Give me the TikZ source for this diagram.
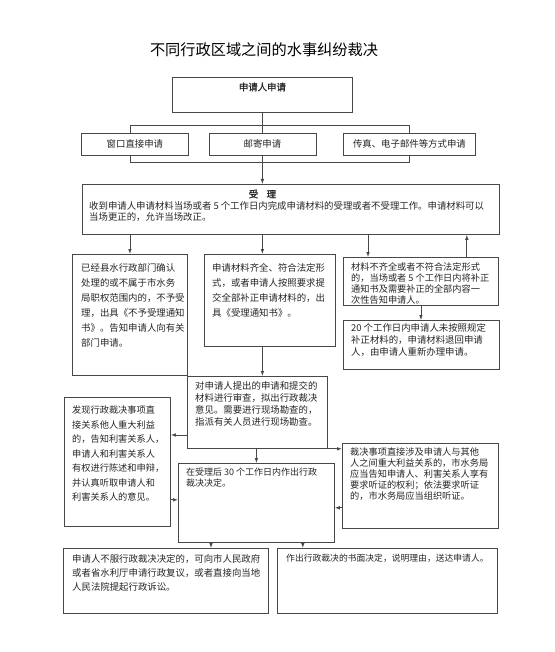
\documentclass[tikz,border=0pt]{standalone}
\usepackage{fontspec}
\setmainfont{Noto Sans CJK SC}
\newfontfamily\headfont{Noto Sans CJK SC}[FakeBold=1.2]
\usetikzlibrary{arrows.meta, positioning, calc}
\definecolor{lineclr}{RGB}{72,72,72}
\definecolor{txtclr}{RGB}{38,38,38}
\tikzset{
  flowbox/.style={draw=lineclr, line width=0.8pt, anchor=north west, inner sep=0pt, text=txtclr, font=\fontsize{9.4}{11}\selectfont},
  boxtext/.style={anchor=north west, inner sep=0pt, align=left, text=txtclr, font=\fontsize{9.4}{#1}\selectfont},
  boxtext/.default=11,
  headtext/.style={inner sep=0pt, text=txtclr, font=\fontsize{9.4}{11}\headfont},
  titletext/.style={inner sep=0pt, text=black, font=\fontsize{15.2}{18}\selectfont},
  link/.style={draw=lineclr, line width=0.8pt},
  arrow/.style={-{Latex[length=5pt, width=3.6pt]}, draw=lineclr, line width=0.8pt},
}
\begin{document}
\begin{tikzpicture}[x=1pt, y=-1pt]
  \useasboundingbox[fill=white] (0,0) rectangle (554,652);

  % --- Title ---
  \node[titletext] (title) at (264,50) {不同行政区域之间的水事纠纷裁决};

  % --- Application ---
  \node[flowbox, minimum width=180pt, minimum height=35pt] (apply) at (172,77) {};
  \node[headtext] (apply-t) at ($(apply.north)+(0,10)$) {申请人申请};

  \node[flowbox, minimum width=107pt, minimum height=22pt] (win) at (81,133) {窗口直接申请};
  \node[flowbox, minimum width=107pt, minimum height=22pt] (mail) at (208.5,133) {邮寄申请};
  \node[flowbox, minimum width=132pt, minimum height=22pt] (fax) at (343,133) {传真、电子邮件等方式申请};

  \coordinate (tl) at (130,125);
  \coordinate (tr) at (409,125);
  \coordinate (bl) at (130,162);
  \coordinate (br) at (409,162);

  % --- Acceptance ---
  \node[flowbox, minimum width=417pt, minimum height=50pt] (accept) at (82,184) {};
  \node[headtext] (accept-h) at ($(accept.north -| apply.south)+(0,10)$) {受\hspace{0.9em}理};
  \node[boxtext=11] (accept-t) at ($(accept.north west)+(7,17)$)
    {收到申请人申请材料当场或者 5 个工作日内完成申请材料的受理或者不受理工作。申请材料可以\\当场更正的，允许当场改正。};

  % --- Second row ---
  \node[flowbox, minimum width=115pt, minimum height=121pt] (reject) at (72,254) {};
  \node[boxtext=15] (reject-t) at ($(reject.north west)+(9,9)$)
    {已经县水行政部门确认\\处理的或不属于市水务\\局职权范围内的，不予受\\理，出具《不予受理通知\\书》。告知申请人向有关\\部门申请。};

  \node[flowbox, minimum width=131pt, minimum height=92pt] (ok) at (204,254) {};
  \node[boxtext=15] (ok-t) at ($(ok.north west)+(8,9)$)
    {申请材料齐全、符合法定形\\式，或者申请人按照要求提\\交全部补正申请材料的，出\\具《受理通知书》。};

  \node[flowbox, minimum width=155pt, minimum height=48pt] (lack) at (343,257) {};
  \node[boxtext=11, font=\fontsize{9.2}{11}\selectfont] (lack-t) at ($(lack.north west)+(8,5)$)
    {材料不齐全或者不符合法定形式\\的，当场或者 5 个工作日内将补正\\通知书及需要补正的全部内容一\\次性告知申请人。};

  \node[flowbox, minimum width=156pt, minimum height=49pt] (retn) at (343,320) {};
  \node[boxtext=12] (retn-t) at ($(retn.north west)+(8,3)$)
    {20 个工作日内申请人未按照规定\\补正材料的，申请材料退回申请\\人，由申请人重新办理申请。};

  % --- Review ---
  \node[flowbox, minimum width=140pt, minimum height=72pt] (review) at (187,376) {};
  \node[boxtext=12] (review-t) at ($(review.north west)+(8,5)$)
    {对申请人提出的申请和提交的\\材料进行审查，拟出行政裁决\\意见。需要进行现场勘查的，\\指派有关人员进行现场勘查。};

  \node[flowbox, minimum width=106pt, minimum height=129pt] (lleft) at (64,397) {};
  \node[boxtext=14.5, font=\fontsize{9.2}{14.5}\selectfont] (lleft-t) at ($(lleft.north west)+(8,9)$)
    {发现行政裁决事项直\\接关系他人重大利益\\的，告知利害关系人，\\申请人和利害关系人\\有权进行陈述和申辩，\\并认真听取申请人和\\利害关系人的意见。};

  \node[flowbox, minimum width=156pt, minimum height=85pt] (rbox) at (342,443) {};
  \node[boxtext=11, font=\fontsize{9.2}{11}\selectfont] (rbox-t) at ($(rbox.north west)+(8,5)$)
    {裁决事项直接涉及申请人与其他\\人之间重大利益关系的，市水务局\\应当告知申请人、利害关系人享有\\要求听证的权利；依法要求听证\\的，市水务局应当组织听证。};

  \node[flowbox, minimum width=156pt, minimum height=79pt] (decide) at (178,463) {};
  \node[boxtext=11, font=\fontsize{9}{11}\selectfont] (decide-t) at ($(decide.north west)+(8,5)$)
    {在受理后 30 个工作日内作出行政\\裁决决定。};

  % --- Result ---
  \node[flowbox, minimum width=205pt, minimum height=65pt] (appeal) at (63,548) {};
  \node[boxtext=14] (appeal-t) at ($(appeal.north west)+(9,6)$)
    {申请人不服行政裁决决定的，可向市人民政府\\或者省水利厅申请行政复议，或者直接向当地\\人民法院提起行政诉讼。};

  \node[flowbox, minimum width=220pt, minimum height=65pt] (write) at (277,548) {};
  \node[boxtext=14, font=\fontsize{8.8}{14}\selectfont] (write-t) at ($(write.north west)+(9,6)$)
    {作出行政裁决的书面决定，说明理由，送达申请人。};

  % --- Connectors ---
  \draw[link] (apply.south) -- (mail.north);
  \draw[link] (win.north -| tl) -- (tl) -- (tr) -- (fax.north -| tr);
  \draw[link] (win.south -| bl) -- (bl) -- (br) -- (fax.south -| br);
  \draw[arrow] (mail.south) -- (mail.south |- accept.north);

  \draw[arrow] (reject.north |- accept.south) -- (reject.north);
  \draw[arrow] (apply.south |- accept.south) -- (apply.south |- ok.north);
  \coordinate (lackin) at ($(lack.north west)+(25,0)$);
  \coordinate (lackback) at ($(lack.north east)+(-32,0)$);
  \draw[arrow] (lackin |- accept.south) -- (lackin);
  \draw[arrow] (lackback) -- (lackback |- accept.south);
  \draw[arrow] (lack.south) -- (lack.south |- retn.north);

  \draw[arrow] (apply.south |- ok.south) -- (apply.south |- review.north);
  \coordinate (revl) at ($(review.north west)+(0,59)$);
  \draw[arrow] (revl) -- (revl -| lleft.east);
  \draw[arrow] (review.south east) -- (review.south east -| rbox.west);
  \draw[arrow] (decide.north |- review.south) -- (decide.north);
  \coordinate (lldec) at ($(lleft.south east)+(0,-27)$);
  \draw[arrow] (lldec) -- (lldec -| decide.west);
  \coordinate (rdec) at ($(rbox.south west)+(0,-21)$);
  \draw[arrow] (rdec) -- (rdec -| decide.east);

  \coordinate (dl) at ($(decide.south west)+(33,0)$);
  \coordinate (dr) at ($(decide.south east)+(-32,0)$);
  \draw[arrow] (dl) -- (dl |- appeal.north);
  \draw[arrow] (dr) -- (dr |- write.north);

\end{tikzpicture}
\end{document}
